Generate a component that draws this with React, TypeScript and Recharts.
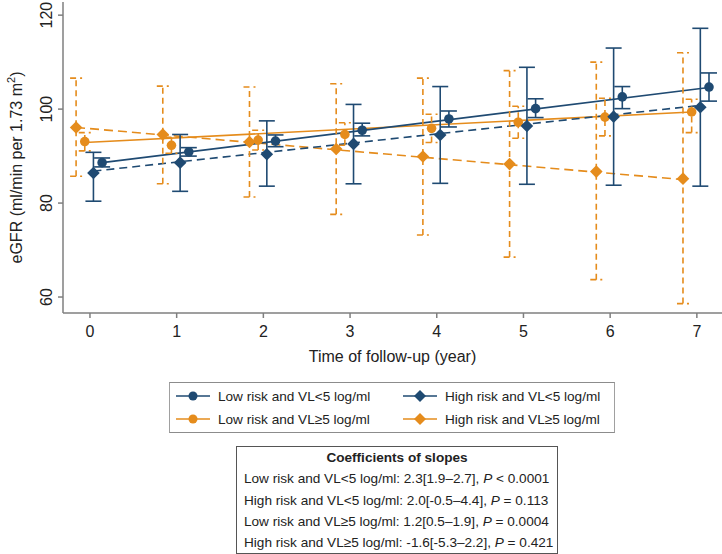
import React from "react";
import {
  ComposedChart,
  Line,
  Scatter,
  ErrorBar,
  XAxis,
  YAxis,
} from "recharts";

const NAVY = "#1f4a72";
const ORANGE = "#e58c1c";
const AXIS = "#7f7f7f";
const FONT = "'Liberation Sans', Arial, sans-serif";

// follow-up years
const years = [0, 1, 2, 3, 4, 5, 6, 7];
const yTicks = [60, 80, 100, 120];

// Low risk and VL<5 log/ml (navy circle)
const lowRiskLowVl = [88.6, 90.9, 93.2, 95.5, 97.9, 100.1, 102.6, 104.7];
const lowRiskLowVlLo = [87.7, 90.0, 92.0, 94.3, 96.2, 98.2, 100.1, 101.7];
const lowRiskLowVlHi = [89.6, 91.8, 94.5, 97.0, 99.6, 102.2, 104.8, 107.7];
const lowRiskLowVlFit = [88.6, 104.6];

// High risk and VL<5 log/ml (navy diamond)
const highRiskLowVl = [86.4, 88.6, 90.4, 92.6, 94.5, 96.4, 98.4, 100.4];
const highRiskLowVlLo = [80.4, 82.5, 83.6, 84.1, 84.2, 84.0, 83.8, 83.6];
const highRiskLowVlHi = [90.8, 94.6, 97.5, 101.0, 104.8, 108.9, 113.0, 117.2];
const highRiskLowVlFit = [86.8, 100.8];

// Low risk and VL>=5 log/ml (orange circle)
const lowRiskHighVl = [93.1, 92.3, 93.4, 94.6, 95.9, 97.2, 98.3, 99.4];
const lowRiskHighVlLo = [91.1, 90.6, 91.3, 92.3, 92.9, 93.8, 94.3, 95.0];
const lowRiskHighVlHi = [95.0, 94.0, 95.5, 97.1, 98.9, 100.6, 102.3, 102.1];
const lowRiskHighVlFit = [92.9, 99.4];

// High risk and VL>=5 log/ml (orange diamond)
const highRiskHighVl = [96.1, 94.6, 93.0, 91.5, 89.9, 88.3, 86.7, 85.2];
const highRiskHighVlLo = [85.7, 84.1, 81.3, 77.6, 73.2, 68.5, 63.7, 58.6];
const highRiskHighVlHi = [106.6, 104.9, 104.7, 105.4, 106.6, 108.2, 110.0, 112.0];
const highRiskHighVlFit = [96.1, 85.0];

// horizontal jitter of each group around the year
const offsets = { hh: -0.16, lh: -0.06, hl: 0.04, ll: 0.14 };

const coefLines = [
  ["Low risk and VL<5 log/ml: 2.3[1.9–2.7], ", "P", " < 0.0001"],
  ["High risk and VL<5 log/ml: 2.0[-0.5–4.4], ", "P", " = 0.113"],
  ["Low risk and VL≥5 log/ml: 1.2[0.5–1.9], ", "P", " = 0.0004"],
  ["High risk and VL≥5 log/ml: -1.6[-5.3–2.2], ", "P", " = 0.421"],
];

function points(mean: number[], lo: number[], hi: number[], off: number) {
  return years.map((yr, i) => ({
    x: yr + off,
    y: mean[i],
    err: [mean[i] - lo[i], hi[i] - mean[i]],
  }));
}

function fit(vals: number[], off: number) {
  return [
    { x: years[0] + off, y: vals[0] },
    { x: years[years.length - 1] + off, y: vals[1] },
  ];
}

const Dot = (color: string) => (p: any) =>
  <circle cx={p.cx} cy={p.cy} r={4.8} fill={color} />;

const Diamond = (color: string) => (p: any) => {
  const s = 6.3;
  return (
    <polygon
      points={`${p.cx},${p.cy - s} ${p.cx + s},${p.cy} ${p.cx},${p.cy + s} ${p.cx - s},${p.cy}`}
      fill={color}
    />
  );
};

const YTick = (p: any) => (
  <text
    x={p.x - 4}
    y={p.y}
    transform={`rotate(-90, ${p.x - 4}, ${p.y})`}
    textAnchor="middle"
    fontSize={16}
    fill="#222"
    fontFamily={FONT}
  >
    {p.payload.value}
  </text>
);

const YTitle = (p: any) => {
  const vb = p.viewBox;
  const x = vb.x + 22;
  const y = vb.y + vb.height / 2 + 10;
  return (
    <text
      x={x}
      y={y}
      transform={`rotate(-90, ${x}, ${y})`}
      textAnchor="middle"
      fontSize={16}
      fill="#222"
      fontFamily={FONT}
    >
      eGFR (ml/min per 1.73 m
      <tspan fontSize={11} dy={-7}>2</tspan>
      <tspan dy={7}>)</tspan>
    </text>
  );
};

const XTitle = (p: any) => {
  const vb = p.viewBox;
  return (
    <text
      x={vb.x + vb.width / 2}
      y={vb.y + 49}
      textAnchor="middle"
      fontSize={16}
      fill="#222"
      fontFamily={FONT}
    >
      Time of follow-up (year)
    </text>
  );
};

function Key({ color, diamond }: { color: string; diamond?: boolean }) {
  return (
    <svg width={34} height={14} style={{ marginRight: 8, flexShrink: 0 }}>
      <line x1={0} y1={7} x2={34} y2={7} stroke={color} strokeWidth={1.5} />
      {diamond ? (
        <polygon points="17,1 23,7 17,13 11,7" fill={color} />
      ) : (
        <circle cx={17} cy={7} r={4.5} fill={color} />
      )}
    </svg>
  );
}

const legendItems = [
  { label: "Low risk and VL<5 log/ml", color: NAVY, diamond: false },
  { label: "High risk and VL<5 log/ml", color: NAVY, diamond: true },
  { label: "Low risk and VL≥5 log/ml", color: ORANGE, diamond: false },
  { label: "High risk and VL≥5 log/ml", color: ORANGE, diamond: true },
];

export default function App() {
  const series = [
    { key: "hh", mean: highRiskHighVl, lo: highRiskHighVlLo, hi: highRiskHighVlHi, fitV: highRiskHighVlFit, color: ORANGE, diamond: true, dashed: true },
    { key: "lh", mean: lowRiskHighVl, lo: lowRiskHighVlLo, hi: lowRiskHighVlHi, fitV: lowRiskHighVlFit, color: ORANGE, diamond: false, dashed: false },
    { key: "hl", mean: highRiskLowVl, lo: highRiskLowVlLo, hi: highRiskLowVlHi, fitV: highRiskLowVlFit, color: NAVY, diamond: true, dashed: true },
    { key: "ll", mean: lowRiskLowVl, lo: lowRiskLowVlLo, hi: lowRiskLowVlHi, fitV: lowRiskLowVlFit, color: NAVY, diamond: false, dashed: false },
  ];

  return (
    <div
      style={{
        position: "absolute",
        left: 0,
        top: 0,
        width: 722,
        height: 554,
        background: "#fff",
        fontFamily: FONT,
      }}
    >
      <ComposedChart
        width={722}
        height={380}
        margin={{ top: 2, right: 0, bottom: 17, left: 0 }}
      >
        <XAxis
          dataKey="x"
          type="number"
          domain={[-0.311, 7.29]}
          ticks={years}
          allowDataOverflow
          height={50}
          stroke={AXIS}
          strokeWidth={1.5}
          tickSize={5}
          tickMargin={8}
          tick={{ fontSize: 16, fill: "#222", fontFamily: FONT }}
          label={<XTitle />}
        />
        <YAxis
          type="number"
          domain={[56.6, 122.8]}
          ticks={yTicks}
          allowDataOverflow
          width={63}
          stroke={AXIS}
          strokeWidth={1.5}
          tickSize={5}
          tick={<YTick />}
          label={<YTitle />}
        />
        {series.map((s) => {
          const off = offsets[s.key as keyof typeof offsets];
          return (
            <Line
              key={"fit-" + s.key}
              data={fit(s.fitV, off)}
              dataKey="y"
              stroke={s.color}
              strokeWidth={1.6}
              strokeDasharray={s.dashed ? (s.color === ORANGE ? "9 5" : "8 5") : undefined}
              dot={false}
              activeDot={false}
              isAnimationActive={false}
            />
          );
        })}
        {series.map((s) => {
          const off = offsets[s.key as keyof typeof offsets];
          return (
            <Scatter
              key={"pts-" + s.key}
              data={points(s.mean, s.lo, s.hi, off)}
              dataKey="y"
              fill={s.color}
              shape={s.diamond ? Diamond(s.color) : Dot(s.color)}
              isAnimationActive={false}
            >
              <ErrorBar
                dataKey="err"
                direction="y"
                width={s.color === ORANGE ? 6 : 8}
                stroke={s.color}
                strokeWidth={1.6}
                strokeDasharray={s.color === ORANGE ? "6 4" : undefined}
                isAnimationActive={false}
              />
            </Scatter>
          );
        })}
      </ComposedChart>

      <div
        style={{
          position: "absolute",
          left: 169,
          top: 382,
          width: 446,
          height: 51,
          boxSizing: "border-box",
          borderTop: "1.5px solid #8c8c8c",
          borderBottom: "1.5px solid #8c8c8c",
          borderLeft: "1px solid #a0a0a0",
          borderRight: "1px solid #a0a0a0",
          display: "grid",
          gridTemplateColumns: "227px 200px",
          gridAutoRows: "23px",
          alignContent: "center",
          paddingLeft: 6,
          fontSize: 13.6,
          color: "#222",
        }}
      >
        {legendItems.map((it) => (
          <div key={it.label} style={{ display: "flex", alignItems: "center", whiteSpace: "nowrap" }}>
            <Key color={it.color} diamond={it.diamond} />
            {it.label}
          </div>
        ))}
      </div>

      <div
        style={{
          position: "absolute",
          left: 236,
          top: 446,
          width: 322,
          height: 108,
          boxSizing: "border-box",
          border: "1px solid #555",
          fontSize: 13.6,
          color: "#222",
          paddingLeft: 7,
          paddingTop: 0,
          lineHeight: "21.3px",
        }}
      >
        <div style={{ fontWeight: "bold", textAlign: "center", marginLeft: -7 }}>
          Coefficients of slopes
        </div>
        {coefLines.map((l) => (
          <div key={l[0]} style={{ whiteSpace: "nowrap" }}>
            {l[0]}
            <i>{l[1]}</i>
            {l[2]}
          </div>
        ))}
      </div>
    </div>
  );
}
